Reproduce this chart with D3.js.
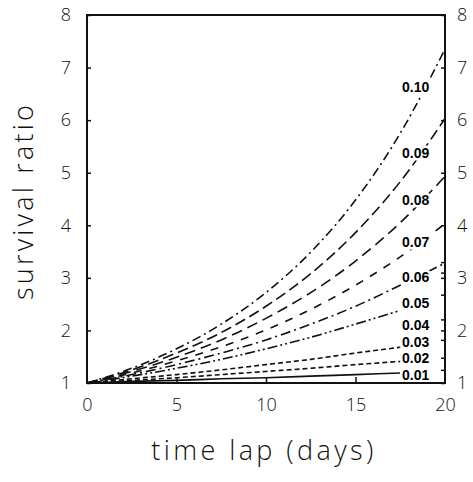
<!DOCTYPE html>
<html>
<head>
<meta charset="utf-8">
<script src="https://cdn.jsdelivr.net/npm/d3@7"></script>
<style>
  body { margin: 0; background: #fff; }
  svg { display: block; }
  .tick text { font-family: "Open Sans", "DejaVu Sans", sans-serif; font-weight: 300; fill: #111; }
  .title { font-family: "Open Sans", "DejaVu Sans", sans-serif; font-weight: 300; fill: #111; }
  .lbl { font-family: "Liberation Sans", Arial, sans-serif; font-weight: bold; font-size: 14px; fill: #000;
         stroke: #fff; stroke-width: 5px; paint-order: stroke; }
</style>
</head>
<body>
<svg id="chart" width="473" height="482"></svg>
<script>
// values, survival ratio at each day
var days = [0, 2.5, 5, 7.5, 10, 12.5, 15, 17.5, 20];
var r10 = [1, 1.28, 1.65, 2.12, 2.72, 3.49, 4.48, 5.75, 7.35];
var r09 = [1, 1.25, 1.57, 1.96, 2.46, 3.08, 3.86, 4.83, 6.03];
var r08 = [1, 1.22, 1.49, 1.82, 2.23, 2.72, 3.32, 4.05, 4.93];
var r07 = [1, 1.19, 1.42, 1.69, 2.01, 2.40, 2.86, 3.40, 4.03];
var r06 = [1, 1.16, 1.35, 1.57, 1.82, 2.12, 2.46, 2.86, 3.28];
var r05 = [1, 1.13, 1.28, 1.45, 1.65, 1.87, 2.12, 2.38];
var r03 = [1, 1.08, 1.16, 1.25, 1.35, 1.45, 1.57, 1.68];
var r02 = [1, 1.05, 1.10, 1.16, 1.22, 1.28, 1.35, 1.41];
var r01 = [1, 1.03, 1.05, 1.08, 1.10, 1.13, 1.16, 1.19];

// curve labels and where they sit (survival ratio)
var rates = ['0.10', '0.09', '0.08', '0.07', '0.06', '0.05', '0.04', '0.03', '0.02', '0.01'];
var labelAt = [6.63, 5.38, 4.48, 3.68, 3.02, 2.52, 2.10, 1.78, 1.48, 1.15];

var xTicks = [0, 5, 10, 15, 20];
var yTicks = [1, 2, 3, 4, 5, 6, 7, 8];
// small marks on the right axis at the 20-day values
var endTicks = [1.25, 1.48, 1.82, 2.21, 2.68, 3.1, 3.3];

var series = [
  { v: r10, dash: '9,4,2,4' },
  { v: r09, dash: '11,5' },
  { v: r08, dash: '11,6' },
  { v: r07, dash: '8,8' },
  { v: r06, dash: '10,4,2,4' },
  { v: r05, dash: '10,3,2,3,2,3' },
  { v: r03, dash: '5,3' },
  { v: r02, dash: '5,3' },
  { v: r01, dash: null }
];

var svg = d3.select('#chart');
var mLeft = 87, mRight = 445, mTop = 15, mBottom = 383;

var x = d3.scaleLinear().domain([0, 20]).range([mLeft, mRight]);
var y = d3.scaleLinear().domain([1, 8]).range([mBottom, mTop]);

var line = d3.line()
  .x(function (d, i) { return x(days[i]); })
  .y(function (d) { return y(d); })
  .curve(d3.curveMonotoneX);

// curves
svg.append('g').selectAll('path')
  .data(series)
  .enter()
  .append('path')
  .attr('d', function (s) { return line(s.v); })
  .attr('fill', 'none')
  .attr('stroke', '#111')
  .attr('stroke-width', 1.6)
  .attr('stroke-dasharray', function (s) { return s.dash; });

// labels with white halo so the lines break around them
svg.append('g').selectAll('text')
  .data(rates)
  .enter()
  .append('text')
  .attr('class', 'lbl')
  .attr('x', 402)
  .attr('y', function (d, i) { return y(labelAt[i]); })
  .attr('dy', '0.36em')
  .text(function (d) { return d; });

// axes
function styleAxis(g) {
  g.select('.domain').remove();
  g.selectAll('.tick line').attr('stroke', '#111').attr('stroke-width', 1.5);
  g.selectAll('.tick text').attr('font-size', 18);
}

svg.append('g')
  .attr('transform', 'translate(0,' + mBottom + ')')
  .call(d3.axisBottom(x).tickValues(xTicks).tickSize(-6).tickPadding(15).tickFormat(d3.format('d')))
  .call(styleAxis)
  .call(function (g) { g.selectAll('.tick').filter(function (d) { return d === 0 || d === 20; }).select('line').remove(); });

svg.append('g')
  .attr('transform', 'translate(' + mLeft + ',0)')
  .call(d3.axisLeft(y).tickValues(yTicks).tickSize(-4).tickPadding(16).tickFormat(d3.format('d')))
  .call(styleAxis);

svg.append('g')
  .attr('transform', 'translate(' + mRight + ',0)')
  .call(d3.axisRight(y).tickValues(yTicks).tickSize(-4).tickPadding(12).tickFormat(d3.format('d')))
  .call(styleAxis);

svg.append('g')
  .attr('transform', 'translate(' + mRight + ',0)')
  .call(d3.axisRight(y).tickValues(endTicks).tickSize(-4).tickFormat(''))
  .call(styleAxis);

// frame
svg.append('rect')
  .attr('x', mLeft).attr('y', mTop)
  .attr('width', mRight - mLeft).attr('height', mBottom - mTop)
  .attr('fill', 'none')
  .attr('stroke', '#111')
  .attr('stroke-width', 2);

// axis titles
svg.append('text')
  .attr('class', 'title')
  .attr('x', 264).attr('y', 460)
  .attr('text-anchor', 'middle')
  .attr('font-size', 27)
  .attr('letter-spacing', 3.4)
  .text('time lap (days)');

svg.append('text')
  .attr('class', 'title')
  .attr('transform', 'translate(33,201) rotate(-90)')
  .attr('text-anchor', 'middle')
  .attr('font-size', 27)
  .attr('letter-spacing', 3.2)
  .text('survival ratio');
</script>
</body>
</html>
